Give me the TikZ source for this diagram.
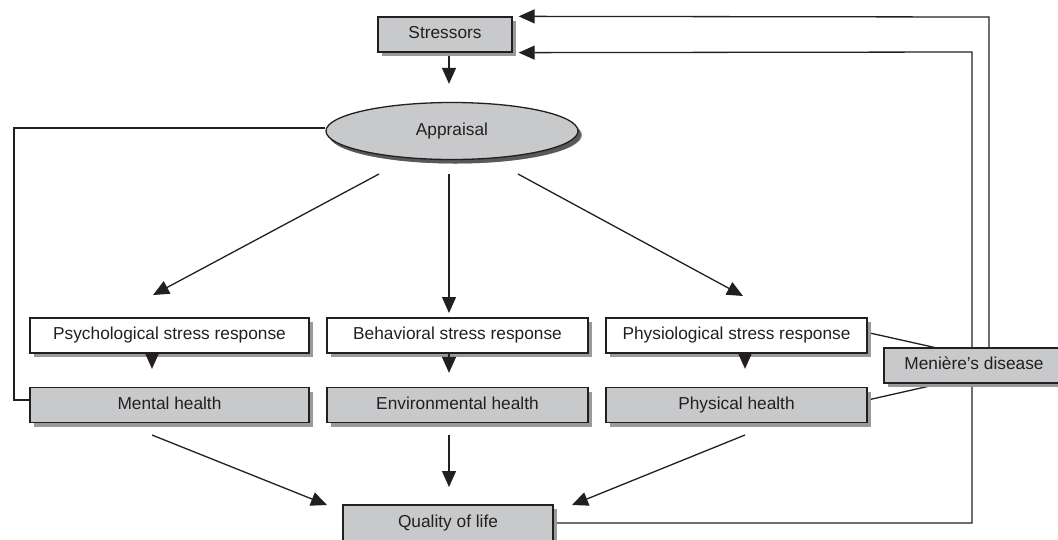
\documentclass[tikz,border=0pt]{standalone}
\usepackage{fontspec}
\setmainfont{Liberation Sans}
\usetikzlibrary{arrows.meta,shapes.geometric,shadows,backgrounds,calc}
\definecolor{boxgray}{HTML}{C8C9CB}
\definecolor{shadowgray}{HTML}{9A9A9A}
\definecolor{ink}{HTML}{231F20}
\begin{document}
\begin{tikzpicture}[x=1pt,y=-1pt,
  every node/.style={font=\fontsize{17.3}{20}\selectfont, text=ink},
  base/.style={draw=ink, line width=1.3pt, inner sep=0pt, text height=12.5pt, text depth=3.6pt,
    drop shadow={shadow xshift=4pt, shadow yshift=-4pt, fill=shadowgray, opacity=1}},
  whitebox/.style={base, rectangle, fill=white, minimum height=35pt},
  graybox/.style={base, rectangle, fill=boxgray, minimum height=35pt},
  ovalbox/.style={base, ellipse, fill=boxgray, minimum width=252pt, minimum height=57pt,
    drop shadow={shadow xshift=3pt, shadow yshift=-4pt, fill=black!65, opacity=1}},
  conn/.style={draw=ink, line width=1.3pt},
  arr/.style={conn, -{Triangle[width=14pt,length=16pt]}}]
\clip (0,0) rectangle (1058,539);

% nodes
\node[graybox, minimum width=134pt] (stressors) at (445,34.5) {Stressors};
\node[ovalbox] (appraisal) at (452,131) {Appraisal};
\node[whitebox, minimum width=279pt] (psych) at (169.5,335.5) {Psychological stress response};
\node[whitebox, minimum width=261pt] (behav) at (457.5,335.5) {Behavioral stress response};
\node[whitebox, minimum width=261pt] (physio) at (736.5,335.5) {Physiological stress response};
\node[graybox, minimum width=279pt] (mental) at (169.5,405) {Mental health};
\node[graybox, minimum width=261pt] (env) at (457.5,405) {Environmental health};
\node[graybox, minimum width=261pt] (phys) at (736.5,405) {Physical health};
\node[graybox, minimum width=180pt] (meniere) at (974,365.5) {Meni\`ere’s disease};
\node[graybox, minimum width=210pt, minimum height=36pt] (qol) at (448,523) {Quality of life};

% named free ends
\coordinate (aL) at (379,174);
\coordinate (aM) at (449,174);
\coordinate (aR) at (518,174);
\coordinate (tPsy) at (153,295);
\coordinate (tBeh) at (449,313);
\coordinate (tPhy) at (743,296);
\coordinate (xPM) at (152,0);
\coordinate (xBE) at (449,0);
\coordinate (xPP) at (745,0);
\coordinate (sM) at (152,435);
\coordinate (sE) at (449,435);
\coordinate (sP) at (745,435);
\coordinate (tQL) at (327,505);
\coordinate (tQM) at (449,487);
\coordinate (tQR) at (572,505);
\coordinate (vIn) at (972,52);
\coordinate (vOut) at (989,17);
\coordinate (lft) at (14,300);
\coordinate (mTop) at (937,348);
\coordinate (mBot) at (943,383);

% short response -> health arrows, drawn over the shadows
\draw[arr, shorten >=18pt] (psych.south -| xPM) -- (mental.north -| xPM);
\draw[arr, shorten >=14pt] (behav.south -| xBE) -- (env.north -| xBE);
\draw[arr, shorten >=18pt] (physio.south -| xPP) -- (phys.north -| xPP);

\begin{pgfonlayer}{background}
\fill[white] (0,0) rectangle (1058,539);
% stressors -> appraisal
\draw[arr, shorten >=18pt] (stressors.south -| xBE) -- (appraisal.north -| xBE);
% appraisal -> responses
\draw[arr] (aL) -- (tPsy);
\draw[arr] (aM) -- (tBeh);
\draw[arr] (aR) -- (tPhy);
% health -> quality of life
\draw[arr] (sM) -- (tQL);
\draw[arr] (sE) -- (tQM);
\draw[arr] (sP) -- (tQR);
% appraisal line to mental health
\draw[conn] ([yshift=3pt]appraisal.west) -| (lft) |- ([yshift=5pt]mental.west);
% Meniere links
\draw[conn] ([yshift=3pt]physio.east) -- (mTop);
\draw[conn] ([yshift=5pt]phys.east) -- (mBot);
% feedback loops
\draw[arr, shorten >=6pt] (qol.east) -| (vIn) -- (stressors.south east);
\draw[arr, shorten >=6pt] (meniere.north -| vOut) -- (vOut) -- (stressors.north east);
\end{pgfonlayer}
\end{tikzpicture}
\end{document}
